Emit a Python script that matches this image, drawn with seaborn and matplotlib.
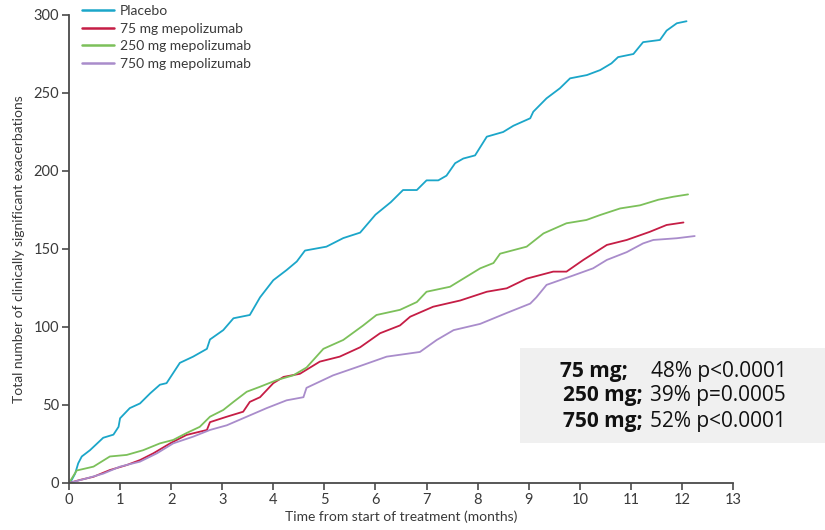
import numpy as np
import pandas as pd
import matplotlib
matplotlib.use("Agg")
import matplotlib.pyplot as plt
from matplotlib.patches import Rectangle
import seaborn as sns

# Cumulative clinically significant exacerbations by treatment arm
placebo_t = [0.0, 0.02, 0.12, 0.18, 0.25, 0.41, 0.54, 0.67, 0.87, 0.97, 1.0, 1.19, 1.39, 1.59, 1.78,
             1.91, 2.17, 2.43, 2.70, 2.76, 3.02, 3.22, 3.54, 3.74, 4.0, 4.26, 4.46, 4.62, 5.04, 5.37,
             5.70, 6.0, 6.3, 6.54, 6.81, 7.0, 7.23, 7.39, 7.56, 7.72, 7.95, 8.18, 8.50, 8.70, 9.03,
             9.09, 9.35, 9.61, 9.81, 10.14, 10.40, 10.62, 10.75, 11.05, 11.24, 11.57, 11.70, 11.90, 12.09]
placebo_n = [0, 0, 6, 12.6, 17, 21, 25, 29, 31, 36, 41.5, 48, 51, 57.5, 63,
             64, 77, 81, 86, 92, 98, 105.6, 107.7, 119, 130, 136.5, 142, 149, 151.5, 157,
             160.5, 172, 180, 187.8, 187.8, 194, 194, 197, 205, 208, 210, 222, 225, 229, 233.8,
             238, 246.6, 253, 259.4, 261.5, 264.7, 269, 273, 275, 282.6, 284, 290, 294.7, 296]

mg75_t = [0.0, 0.22, 0.48, 0.80, 1.13, 1.39, 1.65, 1.98, 2.30, 2.70, 2.76, 3.09, 3.41, 3.54, 3.74,
          4.0, 4.20, 4.52, 4.91, 5.30, 5.70, 6.09, 6.48, 6.68, 7.13, 7.66, 8.18, 8.57, 8.96,
          9.48, 9.74, 10.07, 10.53, 10.92, 11.37, 11.70, 12.03]
mg75_n = [0, 2, 4, 8.3, 11.5, 14.7, 19, 25.4, 30.8, 34, 39, 42.5, 45.7, 52, 55,
          64, 68, 70, 77.8, 81, 87, 96, 101, 106.6, 113, 117, 122.6, 124.8, 131,
          135.5, 135.5, 143, 152.6, 155.8, 161, 165.4, 167]

mg250_t = [0.0, 0.15, 0.48, 0.80, 1.13, 1.45, 1.78, 2.04, 2.30, 2.56, 2.76, 3.02, 3.22, 3.48, 3.74,
           4.07, 4.39, 4.65, 4.98, 5.37, 5.76, 6.02, 6.48, 6.81, 7.0, 7.46, 7.72, 8.05, 8.31,
           8.44, 8.96, 9.29, 9.74, 10.13, 10.40, 10.79, 11.18, 11.54, 11.83, 12.12]
mg250_n = [0, 8, 10.5, 17, 18, 21, 25.4, 27.6, 32, 36, 42.5, 46.8, 52, 58.5, 61.7,
           66, 69, 74, 86, 91.7, 101, 107.7, 111, 116, 122.6, 125.8, 131, 137.6, 141,
           147, 151.5, 160, 166.5, 168.6, 171.8, 176, 178, 181.6, 183.5, 185]

mg750_t = [0.0, 0.35, 0.67, 1.0, 1.39, 1.72, 2.04, 2.43, 2.76, 3.09, 3.48, 3.87, 4.26, 4.59, 4.65,
           5.17, 5.70, 6.22, 6.87, 7.20, 7.53, 8.05, 8.57, 9.03, 9.15, 9.35, 9.87, 10.26, 10.53,
           10.92, 11.24, 11.44, 11.90, 12.25]
mg750_n = [0, 3, 6, 10.5, 13.7, 19, 25.4, 29.7, 34, 37, 42.5, 48, 53, 55, 61,
           69, 75, 81, 84, 91.7, 98, 102, 109, 115, 119, 127, 133, 137.6, 143,
           148, 153.6, 155.8, 156.9, 158.3]

groups = ["Placebo", "75 mg mepolizumab", "250 mg mepolizumab", "750 mg mepolizumab"]
colors = ["#1ba6c9", "#c51d45", "#7cc05a", "#a98ccb"]

annot_dose = ["75 mg;", "250 mg;", "750 mg;"]
annot_stat = ["48% p<0.0001", "39% p=0.0005", "52% p<0.0001"]

frames = []
for name, t, n in zip(groups,
                      [placebo_t, mg75_t, mg250_t, mg750_t],
                      [placebo_n, mg75_n, mg250_n, mg750_n]):
    frames.append(pd.DataFrame({"month": t, "events": n, "group": name}))
df = pd.concat(frames, ignore_index=True)

sns.set_theme(style="ticks")
plt.rcParams["font.family"] = ["Lato", "DejaVu Sans"]
text_col = "#3a3a3a"

fig = plt.figure(figsize=(8.25, 5.3), dpi=100)
ax = fig.add_axes([69 / 825, 1 - 483 / 530, (733 - 69) / 825, (483 - 15) / 530])

sns.lineplot(data=df, x="month", y="events", hue="group", hue_order=groups,
             palette=colors, estimator=None, sort=False, linewidth=1.3, ax=ax)

ax.set_xlim(0, 13)
ax.set_ylim(0, 300)
ax.set_xticks(range(0, 14))
ax.set_yticks(range(0, 301, 50))
for s in ["top", "right"]:
    ax.spines[s].set_visible(False)
for s in ["left", "bottom"]:
    ax.spines[s].set_color("#4a4a4a")
    ax.spines[s].set_linewidth(1.3)
ax.tick_params(axis="both", direction="out", length=5, width=1.2, color="#4a4a4a",
               labelsize=10.5, labelcolor=text_col, pad=2)
ax.set_xlabel("Time from start of treatment (months)", fontsize=10, color=text_col, labelpad=3)
ax.set_ylabel("Total number of clinically significant exacerbations", fontsize=10,
              color=text_col, labelpad=6)

leg = ax.legend(loc="upper left", bbox_to_anchor=(82 / 825, 1 - 5 / 530),
                bbox_transform=fig.transFigure, frameon=False, fontsize=10,
                handlelength=2.3, handletextpad=0.45, labelspacing=0.4, borderpad=0,
                borderaxespad=0)
for txt in leg.get_texts():
    txt.set_color(text_col)
for h in leg.get_lines():
    h.set_linewidth(1.8)

# Summary box of rate reductions
fig.patches.append(Rectangle((520 / 825, 1 - 443 / 530), 305 / 825, 95 / 530,
                             transform=fig.transFigure, facecolor="#f0f0f0",
                             edgecolor="none", zorder=0))
dose_x = [628, 643, 643]
stat_x = [651, 650, 650]
rows_y = [371, 396, 421]
for d, s, dx, sx, ry in zip(annot_dose, annot_stat, dose_x, stat_x, rows_y):
    fig.text(dx / 825, 1 - ry / 530, d, fontsize=15, fontweight="bold",
             family=["Open Sans", "DejaVu Sans"], color="#111111", va="center", ha="right")
    fig.text(sx / 825, 1 - ry / 530, s, fontsize=15,
             family=["Open Sans", "DejaVu Sans"], color="#111111", va="center", ha="left")

fig.savefig("out.png", dpi=100)
